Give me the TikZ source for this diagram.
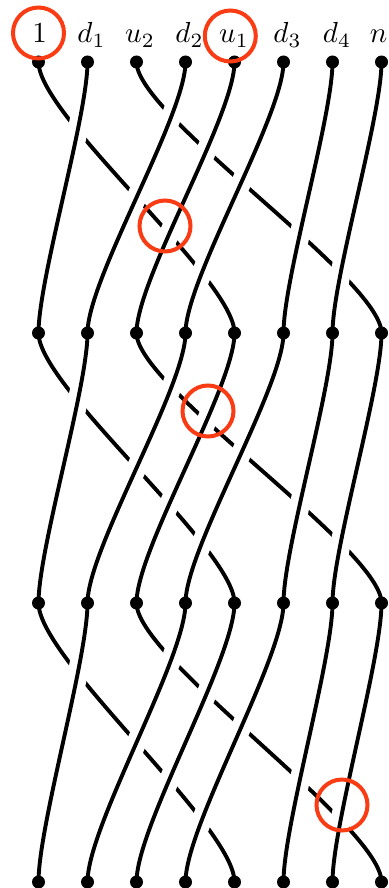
\documentclass[tikz,border=0pt]{standalone}
\definecolor{markred}{RGB}{250,60,20}
\begin{document}
\begin{tikzpicture}[x=1pt,y=-1pt,
  strand/.style={line width=3.9pt},
  overstrand/.style={strand, preaction={draw=white, line width=20pt}},
  marker/.style={draw=markred, line width=4pt},
  lab/.style={anchor=base, inner sep=0pt, font=\normalsize, scale=2.9}]
\useasboundingbox (0,0) rectangle (388,888);
% dot positions
\foreach \r/\y in {1/62,2/333,3/603,4/882}{
  \foreach \c in {1,...,8}{
    \coordinate (p-\r-\c) at ({38.5+49*(\c-1)},\y);
  }
}
% braid blocks
\foreach \r/\s/\k in {1/2/54,2/3/54,3/4/56}{
  \draw[strand] (p-\r-1) .. controls +(0,\k) and +(0,-\k) .. (p-\s-5);
  \draw[strand] (p-\r-3) .. controls +(0,\k) and +(0,-\k) .. (p-\s-8);
  \foreach \a/\b in {2/1,4/2,5/3,6/4,7/6,8/7}{
    \draw[overstrand] (p-\r-\a) .. controls +(0,\k) and +(0,-\k) .. (p-\s-\b);
  }
}
% dots
\foreach \r in {1,...,4}{
  \foreach \c in {1,...,8}{
    \fill (p-\r-\c) circle (6.5pt);
  }
}
% labels
\node[lab] (l1) at (39.5,43) {$1$};
\node[lab] (l2) at (91.5,43) {$d_1$};
\node[lab] (l3) at (140,43) {$u_2$};
\node[lab] (l4) at (189.5,43) {$d_2$};
\node[lab] (l5) at (234,43) {$u_1$};
\node[lab] (l6) at (287.5,43) {$d_3$};
\node[lab] (l7) at (337,43) {$d_4$};
\node[lab] (l8) at (378.5,43) {$n$};
% red markers
\draw[marker] (38.5,33) circle (25.5pt);
\draw[marker] (230.3,36) circle (25.5pt);
\draw[marker] (165,226) circle (25.5pt);
\draw[marker] (208,411) circle (25.5pt);
\draw[marker] (342,805) circle (25.5pt);
\end{tikzpicture}
\end{document}
